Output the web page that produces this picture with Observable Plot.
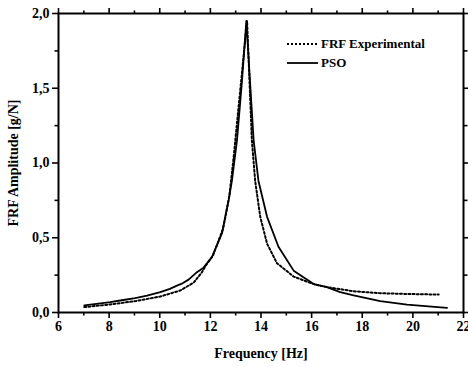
<!DOCTYPE html>
<html>
<head>
<meta charset="utf-8">
<script src="https://cdn.jsdelivr.net/npm/d3@7"></script>
<script src="https://cdn.jsdelivr.net/npm/@observablehq/plot@0.6"></script>
<style>
  html, body { margin: 0; padding: 0; background: #fff; }
  #wrap { position: relative; width: 468px; height: 367px; font-family: "Liberation Serif", "Times New Roman", Times, serif; }
  #legend { position: absolute; left: 287px; top: 34px; font-weight: bold; font-size: 13px; line-height: 19px; color: #000; }
  #legend div { display: flex; align-items: center; }
  #legend svg { margin-right: 3px; }
</style>
</head>
<body>
<div id="wrap">
  <div id="chart"></div>
  <div id="legend"></div>
</div>
<script>
// FRF Experimental (dotted)
const freqExp = [7.02, 8.04, 9.03, 10.02, 10.81, 11.34, 11.67, 11.8, 12.1, 12.5, 12.75, 12.92, 13.1, 13.45, 13.64, 13.77, 13.97, 14.24, 14.63, 15.29, 16.08, 16.6, 17.66, 18.71, 19.77, 21.02];
const ampExp  = [0.036, 0.054, 0.076, 0.107, 0.147, 0.20, 0.27, 0.31, 0.38, 0.56, 0.78, 1.04, 1.35, 1.95, 1.15, 0.88, 0.64, 0.46, 0.33, 0.24, 0.19, 0.17, 0.142, 0.129, 0.124, 0.12];
// PSO (solid)
const freqPSO = [7.02, 7.5, 8.04, 8.5, 9.03, 9.5, 10.02, 10.4, 10.68, 10.9, 11.14, 11.47, 11.73, 12.06, 12.46, 12.72, 12.85, 13.05, 13.25, 13.42, 13.71, 13.9, 14.24, 14.69, 15.29, 16.08, 16.6, 17.13, 17.66, 18.71, 19.77, 21.35];
const ampPSO  = [0.047, 0.057, 0.069, 0.082, 0.096, 0.113, 0.136, 0.158, 0.18, 0.195, 0.22, 0.27, 0.30, 0.37, 0.53, 0.75, 0.88, 1.15, 1.55, 1.95, 1.15, 0.88, 0.64, 0.44, 0.28, 0.19, 0.17, 0.136, 0.114, 0.076, 0.052, 0.031];

const xMajor = [6, 8, 10, 12, 14, 16, 18, 20, 22];
const xMinor = [7, 9, 11, 13, 15, 17, 19, 21];
const yMajor = [0, 0.5, 1.0, 1.5, 2.0];
const yMinor = [0.25, 0.75, 1.25, 1.75];
const seriesNames = ["FRF Experimental", "PSO"];
const xTitle = "Frequency [Hz]";
const yTitle = "FRF Amplitude [g/N]";

const expData = freqExp.map((f, i) => ({f, a: ampExp[i]}));
const psoData = freqPSO.map((f, i) => ({f, a: ampPSO[i]}));
const fmtY = d => d.toFixed(1).replace(".", ",");
const blank = () => "";
const tickStyle = {strokeWidth: 1.6};

const chart = Plot.plot({
  width: 468,
  height: 367,
  marginLeft: 58,
  marginRight: 5,
  marginTop: 13,
  marginBottom: 55,
  style: {fontFamily: '"Liberation Serif", "Times New Roman", Times, serif', fontWeight: "bold", fontSize: "14px", color: "#000", background: "#fff"},
  x: {domain: [6, 22]},
  y: {domain: [0, 2.0]},
  marks: [
    // bottom axis
    Plot.axisX({anchor: "bottom", ticks: xMajor, tickSize: 6, tickPadding: 3, tickFormat: d => String(d), label: xTitle, labelAnchor: "center", labelOffset: 45, labelArrow: "none", ...tickStyle, fontSize: 14}),
    Plot.axisX({anchor: "bottom", ticks: xMinor, tickSize: 3.5, tickFormat: blank, label: null, ...tickStyle}),
    // top axis
    Plot.axisX({anchor: "top", ticks: xMajor, tickSize: 6, tickFormat: blank, label: null, ...tickStyle}),
    Plot.axisX({anchor: "top", ticks: xMinor, tickSize: 3.5, tickFormat: blank, label: null, ...tickStyle}),
    // left axis
    Plot.axisY({anchor: "left", ticks: yMajor, tickSize: 6, tickPadding: 3, tickFormat: fmtY, label: yTitle, labelAnchor: "center", labelOffset: 50, labelArrow: "none", ...tickStyle, fontSize: 14}),
    Plot.axisY({anchor: "left", ticks: yMinor, tickSize: 3.5, tickFormat: blank, label: null, ...tickStyle}),
    // right axis
    Plot.axisY({anchor: "right", ticks: yMajor, tickSize: 6, tickFormat: blank, label: null, ...tickStyle}),
    Plot.axisY({anchor: "right", ticks: yMinor, tickSize: 3.5, tickFormat: blank, label: null, ...tickStyle}),
    Plot.frame({stroke: "#000", strokeWidth: 2}),
    Plot.line(expData, {x: "f", y: "a", stroke: "#000", strokeWidth: 2, strokeDasharray: "2,2.2"}),
    Plot.line(psoData, {x: "f", y: "a", stroke: "#000", strokeWidth: 1.8})
  ]
});
document.getElementById("chart").appendChild(chart);

const legend = document.getElementById("legend");
const dashes = ["2,2", null];
seriesNames.forEach((name, i) => {
  const row = document.createElement("div");
  const dash = dashes[i] ? ` stroke-dasharray="${dashes[i]}"` : "";
  row.innerHTML = `<svg width="31" height="6"><line x1="0" y1="3" x2="31" y2="3" stroke="#000" stroke-width="1.8"${dash}/></svg><span>${name}</span>`;
  legend.appendChild(row);
});
</script>
</body>
</html>
